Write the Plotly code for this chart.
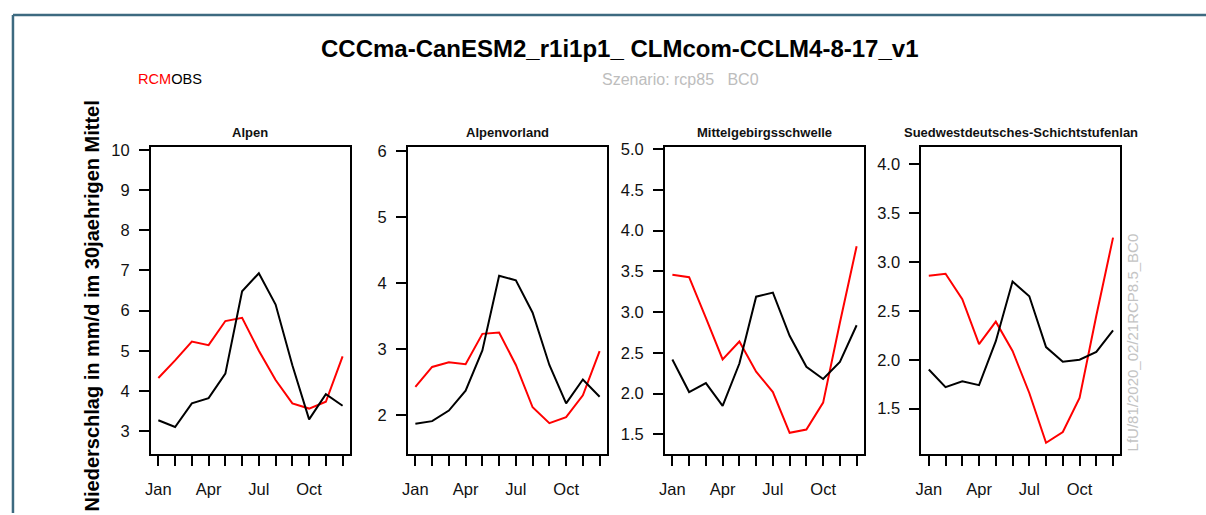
import plotly.graph_objects as go

W, H = 1206, 515

months = list(range(1, 13))
month_labels = ["Jan", "", "", "Apr", "", "", "Jul", "", "", "Oct", "", ""]

regions = ["Alpen", "Alpenvorland", "Mittelgebirgsschwelle",
           "Suedwestdeutsches-Schichtstufenlan"]

rcm_alpen = [4.32, 4.76, 5.23, 5.14, 5.74, 5.82, 5.00, 4.27, 3.69, 3.56, 3.73, 4.86]
obs_alpen = [3.27, 3.10, 3.69, 3.82, 4.43, 6.48, 6.93, 6.15, 4.64, 3.29, 3.92, 3.63]

rcm_alpenvorland = [2.43, 2.73, 2.80, 2.77, 3.23, 3.25, 2.76, 2.12, 1.88, 1.97, 2.30, 2.97]
obs_alpenvorland = [1.87, 1.91, 2.07, 2.37, 2.98, 4.11, 4.04, 3.55, 2.76, 2.18, 2.54, 2.28]

rcm_mittel = [3.46, 3.43, 2.93, 2.42, 2.64, 2.27, 2.02, 1.52, 1.56, 1.89, 2.87, 3.81]
obs_mittel = [2.42, 2.02, 2.13, 1.85, 2.37, 3.19, 3.24, 2.71, 2.33, 2.18, 2.39, 2.84]

rcm_suedwest = [2.86, 2.88, 2.62, 2.16, 2.39, 2.09, 1.66, 1.15, 1.26, 1.61, 2.45, 3.25]
obs_suedwest = [1.90, 1.72, 1.78, 1.74, 2.19, 2.80, 2.65, 2.13, 1.98, 2.00, 2.08, 2.30]

rcm_series = [rcm_alpen, rcm_alpenvorland, rcm_mittel, rcm_suedwest]
obs_series = [obs_alpen, obs_alpenvorland, obs_mittel, obs_suedwest]

y_ticks = [
    [3, 4, 5, 6, 7, 8, 9, 10],
    [2, 3, 4, 5, 6],
    [1.5, 2.0, 2.5, 3.0, 3.5, 4.0, 4.5, 5.0],
    [1.5, 2.0, 2.5, 3.0, 3.5, 4.0],
]
y_tickformats = ["d", "d", ".1f", ".1f"]
y_ranges = [[2.44, 10.08], [1.42, 6.06], [1.265, 5.03], [1.04, 4.18]]

# layout (pixels)
box_left = [145.7, 404.0, 662.3, 920.0]
box_w = 200.0
box_top, box_bottom = 141.7, 452.7

def px(x):
    return x / W

def py(y):
    return 1 - y / H

fig = go.Figure()
font_family = "Liberation Sans, Arial, sans-serif"

for i in range(4):
    ax = "" if i == 0 else str(i + 1)
    fig.add_trace(go.Scatter(x=months, y=rcm_series[i], mode="lines",
                             line=dict(color="#ff0000", width=2),
                             xaxis="x" + ax, yaxis="y" + ax, showlegend=False))
    fig.add_trace(go.Scatter(x=months, y=obs_series[i], mode="lines",
                             line=dict(color="#000000", width=2),
                             xaxis="x" + ax, yaxis="y" + ax, showlegend=False))
    xa = dict(domain=[px(box_left[i]), px(box_left[i] + box_w)],
              range=[0.56, 12.44], anchor="y" + ax,
              tickmode="array", tickvals=months, ticktext=month_labels,
              ticks="outside", ticklen=10, tickwidth=2, tickcolor="black",
              showline=True, mirror=True, linecolor="black", linewidth=2,
              showgrid=False, zeroline=False,
              tickfont=dict(family=font_family, size=16.5, color="#111111"),
              ticklabelstandoff=10)
    ya = dict(domain=[py(box_bottom), py(box_top)],
              range=y_ranges[i], anchor="x" + ax,
              tickmode="array", tickvals=y_ticks[i], tickformat=y_tickformats[i],
              ticks="outside", ticklen=10, tickwidth=2, tickcolor="black",
              showline=True, mirror=True, linecolor="black", linewidth=2,
              showgrid=False, zeroline=False,
              tickfont=dict(family=font_family, size=16.5, color="#111111"),
              ticklabelstandoff=6)
    fig.layout["xaxis" + ax] = xa
    fig.layout["yaxis" + ax] = ya

annotations = []
for i in range(4):
    annotations.append(dict(text="<b>" + regions[i] + "</b>",
                            x=px(box_left[i] + box_w / 2), y=py(127),
                            xref="paper", yref="paper", showarrow=False,
                            xanchor="center", yanchor="middle",
                            font=dict(family=font_family, size=13, color="#111111")))

annotations.append(dict(text="<b>CCCma-CanESM2_r1i1p1_ CLMcom-CCLM4-8-17_v1</b>",
                        x=px(617.5), y=py(42), xref="paper", yref="paper",
                        showarrow=False, xanchor="center", yanchor="middle",
                        font=dict(family=font_family, size=24, color="#000000")))
annotations.append(dict(text="<span style='color:#ff0000'>RCM</span>OBS",
                        x=px(131), y=py(73), xref="paper", yref="paper",
                        showarrow=False, xanchor="left", yanchor="middle",
                        font=dict(family=font_family, size=14.6, color="#000000")))
annotations.append(dict(text="Szenario: rcp85\u00a0\u00a0\u00a0BC0",
                        x=px(678), y=py(73), xref="paper", yref="paper",
                        showarrow=False, xanchor="center", yanchor="middle",
                        font=dict(family=font_family, size=16, color="#bdbdbd")))
annotations.append(dict(text="<b>Niederschlag in mm/d im 30jaehrigen Mittel</b>",
                        x=px(86), y=py(303), xref="paper", yref="paper",
                        showarrow=False, xanchor="center", yanchor="middle",
                        textangle=-90,
                        font=dict(family=font_family, size=20, color="#000000")))
annotations.append(dict(text="LfU/81/2020_02/21RCP8.5_BC0",
                        x=px(1132.5), y=py(452.7), xref="paper", yref="paper",
                        showarrow=False, xanchor="center", yanchor="bottom",
                        textangle=-90,
                        font=dict(family=font_family, size=15, color="#c4c4c4")))

shapes = [
    dict(type="line", xref="paper", yref="paper", x0=px(7), x1=1, y0=py(8), y1=py(8),
         line=dict(color="#3d6a80", width=2.5)),
    dict(type="line", xref="paper", yref="paper", x0=px(7), x1=px(7), y0=py(8), y1=py(513),
         line=dict(color="#3d6a80", width=2.5)),
]

fig.update_layout(width=W, height=H, margin=dict(l=0, r=0, t=0, b=0),
                  paper_bgcolor="white", plot_bgcolor="white",
                  annotations=annotations, shapes=shapes, showlegend=False)

fig.write_html("out.html")
